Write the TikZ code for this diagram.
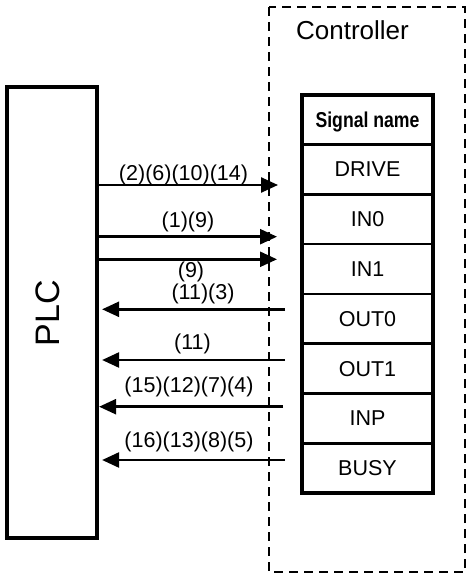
\documentclass[tikz,border=0pt]{standalone}
\usepackage{fontspec}
\setmainfont{Liberation Sans}
\usepackage{graphicx}
\usetikzlibrary{arrows.meta,positioning}
\tikzset{
  ar/.style={-{Triangle[length=17pt,width=15pt]},line width=2.5pt},
  arl/.style={ar,shorten >=3pt},
  cell/.style={draw,line width=2.5pt,minimum width=131pt,minimum height=49.8pt,outer sep=0pt,inner sep=0pt,font=\fontsize{21.5}{24}\selectfont,text height=15pt,text depth=0pt},
  lbl/.style={anchor=base,inner sep=0pt,font=\fontsize{21.5}{24}\selectfont},
  plcbox/.style={draw,line width=4.2pt,minimum width=90pt,minimum height=451pt},
  ctrlbox/.style={draw,line width=1.4pt,dash pattern=on 9pt off 6pt}
}

\begin{document}
\begin{tikzpicture}[x=1pt,y=1pt]
\useasboundingbox (0,0) rectangle (466,-575);
\draw[ctrlbox] (269,-7) rectangle (465,-572);
\node[anchor=base,inner sep=0pt,font=\fontsize{26}{30}\selectfont] (ctrl) at (352.5,-39.5) {Controller};
\node[plcbox] (plc) at (52,-312.5) {};
\node[rotate=90,inner sep=0pt,text depth=0pt,font=\fontsize{34}{38}\selectfont] (plcname) at (47.5,-313) {PLC};
\node[cell] (sig) at (367.5,-119.6) {\scalebox{0.82}[1]{\bfseries Signal name}};
\foreach \nm/\txt [remember=\nm as \prev (initially sig)] in {drive/DRIVE,in0/IN0,in1/IN1,out0/OUT0,out1/OUT1,inp/INP,busy/BUSY}
  \node[cell,below=0pt of \prev] (\nm) {\txt};
\draw[line width=4.3pt] (sig.north west) rectangle (busy.south east);
\coordinate (e1) at (278,-185);
\coordinate (e2) at (277,-236.7);
\coordinate (e3) at (277,-259.3);
\coordinate (s4) at (285,-309.3);
\coordinate (s5) at (285,-360);
\coordinate (s6) at (283,-406.7);
\coordinate (s7) at (285,-460);
\draw[ar] (plc.east |- e1) -- (e1);
\draw[ar] (plc.east |- e2) -- (e2);
\draw[ar] (plc.east |- e3) -- (e3);
\draw[arl] (s4) -- (s4 -| plc.east);
\draw[arl] (s5) -- (s5 -| plc.east);
\draw[ar] (s6) -- (s6 -| plc.east);
\draw[arl] (s7) -- (s7 -| plc.east);
\node[lbl] (l1) at (183.5,-180.5) {(2)(6)(10)(14)};
\node[lbl] (l2) at (188,-227.5) {(1)(9)};
\node[lbl] (l3) at (191,-277) {(9)};
\node[lbl] (l4) at (203,-299.5) {(11)(3)};
\node[lbl] (l5) at (192.5,-349.5) {(11)};
\node[lbl] (l6) at (189,-392.5) {(15)(12)(7)(4)};
\node[lbl] (l7) at (189,-447.5) {(16)(13)(8)(5)};
\end{tikzpicture}
\end{document}
